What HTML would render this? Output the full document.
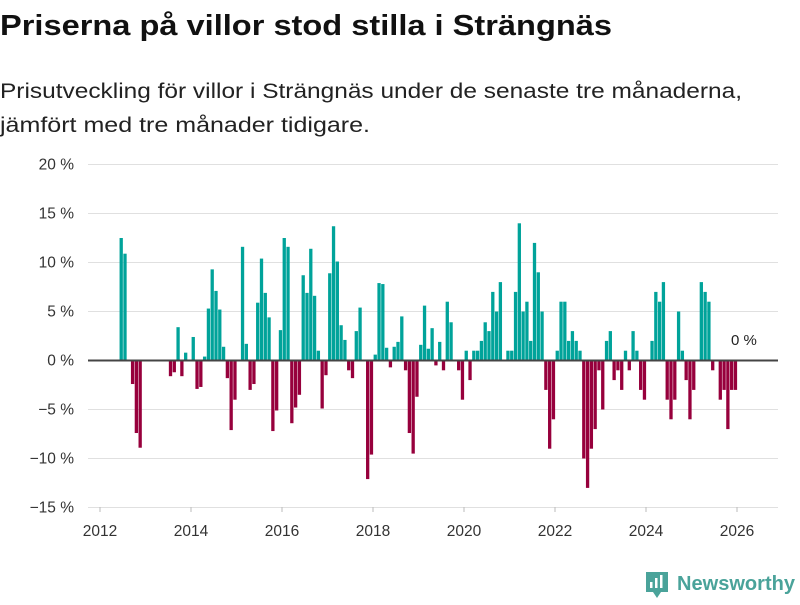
<!DOCTYPE html>
<html><head><meta charset="utf-8">
<style>
body{margin:0;background:#fff;width:800px;height:600px;overflow:hidden;font-family:"Liberation Sans",sans-serif;}
svg text{font-family:"Liberation Sans",sans-serif;}
</style></head>
<body>
<svg id="chart" width="800" height="600" viewBox="0 0 800 600" xmlns="http://www.w3.org/2000/svg">
<text x="0" y="35" font-size="29" font-weight="bold" fill="#111" textLength="612" lengthAdjust="spacingAndGlyphs">Priserna på villor stod stilla i Strängnäs</text>
<text x="0" y="98" font-size="21" fill="#222" textLength="742" lengthAdjust="spacingAndGlyphs">Prisutveckling för villor i Strängnäs under de senaste tre månaderna,</text>
<text x="0" y="132" font-size="21" fill="#222" textLength="370" lengthAdjust="spacingAndGlyphs">jämfört med tre månader tidigare.</text>
<g id="grid"></g>
<g id="bars"></g>
<g id="axes"></g>
<text x="731" y="345" font-size="15" fill="#222">0 %</text>
<g>
<path d="M646 572 h22 v20 h-7 l-4 6 l-4 -6 h-7 z" fill="#4aa39a"/>
<rect x="650" y="582" width="2.5" height="6" fill="#fff"/>
<rect x="655" y="578" width="2.5" height="10" fill="#fff"/>
<rect x="660" y="575" width="2.5" height="13" fill="#fff"/>
<text x="677" y="590" font-size="20" font-weight="bold" fill="#4aa39a" textLength="118" lengthAdjust="spacingAndGlyphs">Newsworthy</text>
</g>
</svg>
<script>
const yTicks = [20, 15, 10, 5, 0, -5, -10, -15];
const xTickYears = [2012, 2014, 2016, 2018, 2020, 2022, 2024, 2026];
const startYear = 2012;
const values = [
0,0,0,0,0,12.5,10.9,0,-2.4,-7.4,-8.9,0,
0,0,0,0,0,0,-1.6,-1.2,3.4,-1.6,0.8,0,
2.4,-2.9,-2.7,0.4,5.3,9.3,7.1,5.2,1.4,-1.8,-7.1,-4.0,
0,11.6,1.7,-3.0,-2.4,5.9,10.4,6.9,4.4,-7.2,-5.1,3.1,
12.5,11.6,-6.4,-4.8,-3.5,8.7,6.9,11.4,6.6,1.0,-4.9,-1.5,
8.9,13.7,10.1,3.6,2.1,-1.0,-1.8,3.0,5.4,0,-12.1,-9.6,
0.6,7.9,7.8,1.3,-0.7,1.4,1.9,4.5,-1.0,-7.4,-9.5,-3.7,
1.6,5.6,1.2,3.3,-0.5,1.9,-1.0,6.0,3.9,0,-1.0,-4.0,
1.0,-2.0,1.0,1.0,2.0,3.9,3.0,7.0,5.0,8.0,0,1.0,
1.0,7.0,14.0,5.0,6.0,2.0,12.0,9.0,5.0,-3.0,-9.0,-6.0,
1.0,6.0,6.0,2.0,3.0,2.0,1.0,-10.0,-13.0,-9.0,-7.0,-1.0,
-5.0,2.0,3.0,-2.0,-1.0,-3.0,1.0,-1.0,3.0,1.0,-3.0,-4.0,
0,2.0,7.0,6.0,8.0,-4.0,-6.0,-4.0,5.0,1.0,-2.0,-6.0,
-3.0,0,8.0,7.0,6.0,-1.0,0,-4.0,-3.0,-7.0,-3.0,-3.0
];
const NS='http://www.w3.org/2000/svg';
const x0=100, yearW=(737-100)/14;
function xScale(monthIdx){return x0+monthIdx*yearW/12;}
function yScale(v){return 360.5 - v*9.8;}
const grid=document.getElementById('grid'), axes=document.getElementById('axes'), bars=document.getElementById('bars');
function mk(tag,attrs,parent){const e=document.createElementNS(NS,tag);for(const k in attrs)e.setAttribute(k,attrs[k]);parent.appendChild(e);return e;}
yTicks.forEach(t=>{
  if(t!==0){
    const l=mk('line',{x1:88,x2:778,y1:yScale(t),y2:yScale(t),stroke:'#e0e0e0','stroke-width':1},grid);
    
    
  }
  const tx=mk('text',{x:74,y:yScale(t)+5,'font-size':15.5,fill:'#333','text-anchor':'end'},axes);
  tx.textContent=(t<0?'−'+Math.abs(t):t)+' %';
  
  
});
values.forEach((v,i)=>{
  if(v===0)return;
  const y=yScale(v), z=yScale(0);
  const r=mk('rect',{x:xScale(i)+0.6,width:3.3,y:Math.min(y,z),height:Math.abs(z-y),fill:v>0?'#00a39a':'#97003c'},bars);
  
  
});
const zl=mk('line',{x1:88,x2:778,y1:yScale(0),y2:yScale(0),stroke:'#444','stroke-width':2},axes);


xTickYears.forEach(yr=>{
  const x=xScale((yr-startYear)*12);
  const tk=mk('line',{x1:x,x2:x,y1:507,y2:512,stroke:'#bbb','stroke-width':1},axes);
  
  
  const tx=mk('text',{x:x,y:536,'font-size':15.5,fill:'#333','text-anchor':'middle'},axes);
  tx.textContent=yr;
  
  
});
</script>
</body></html>
